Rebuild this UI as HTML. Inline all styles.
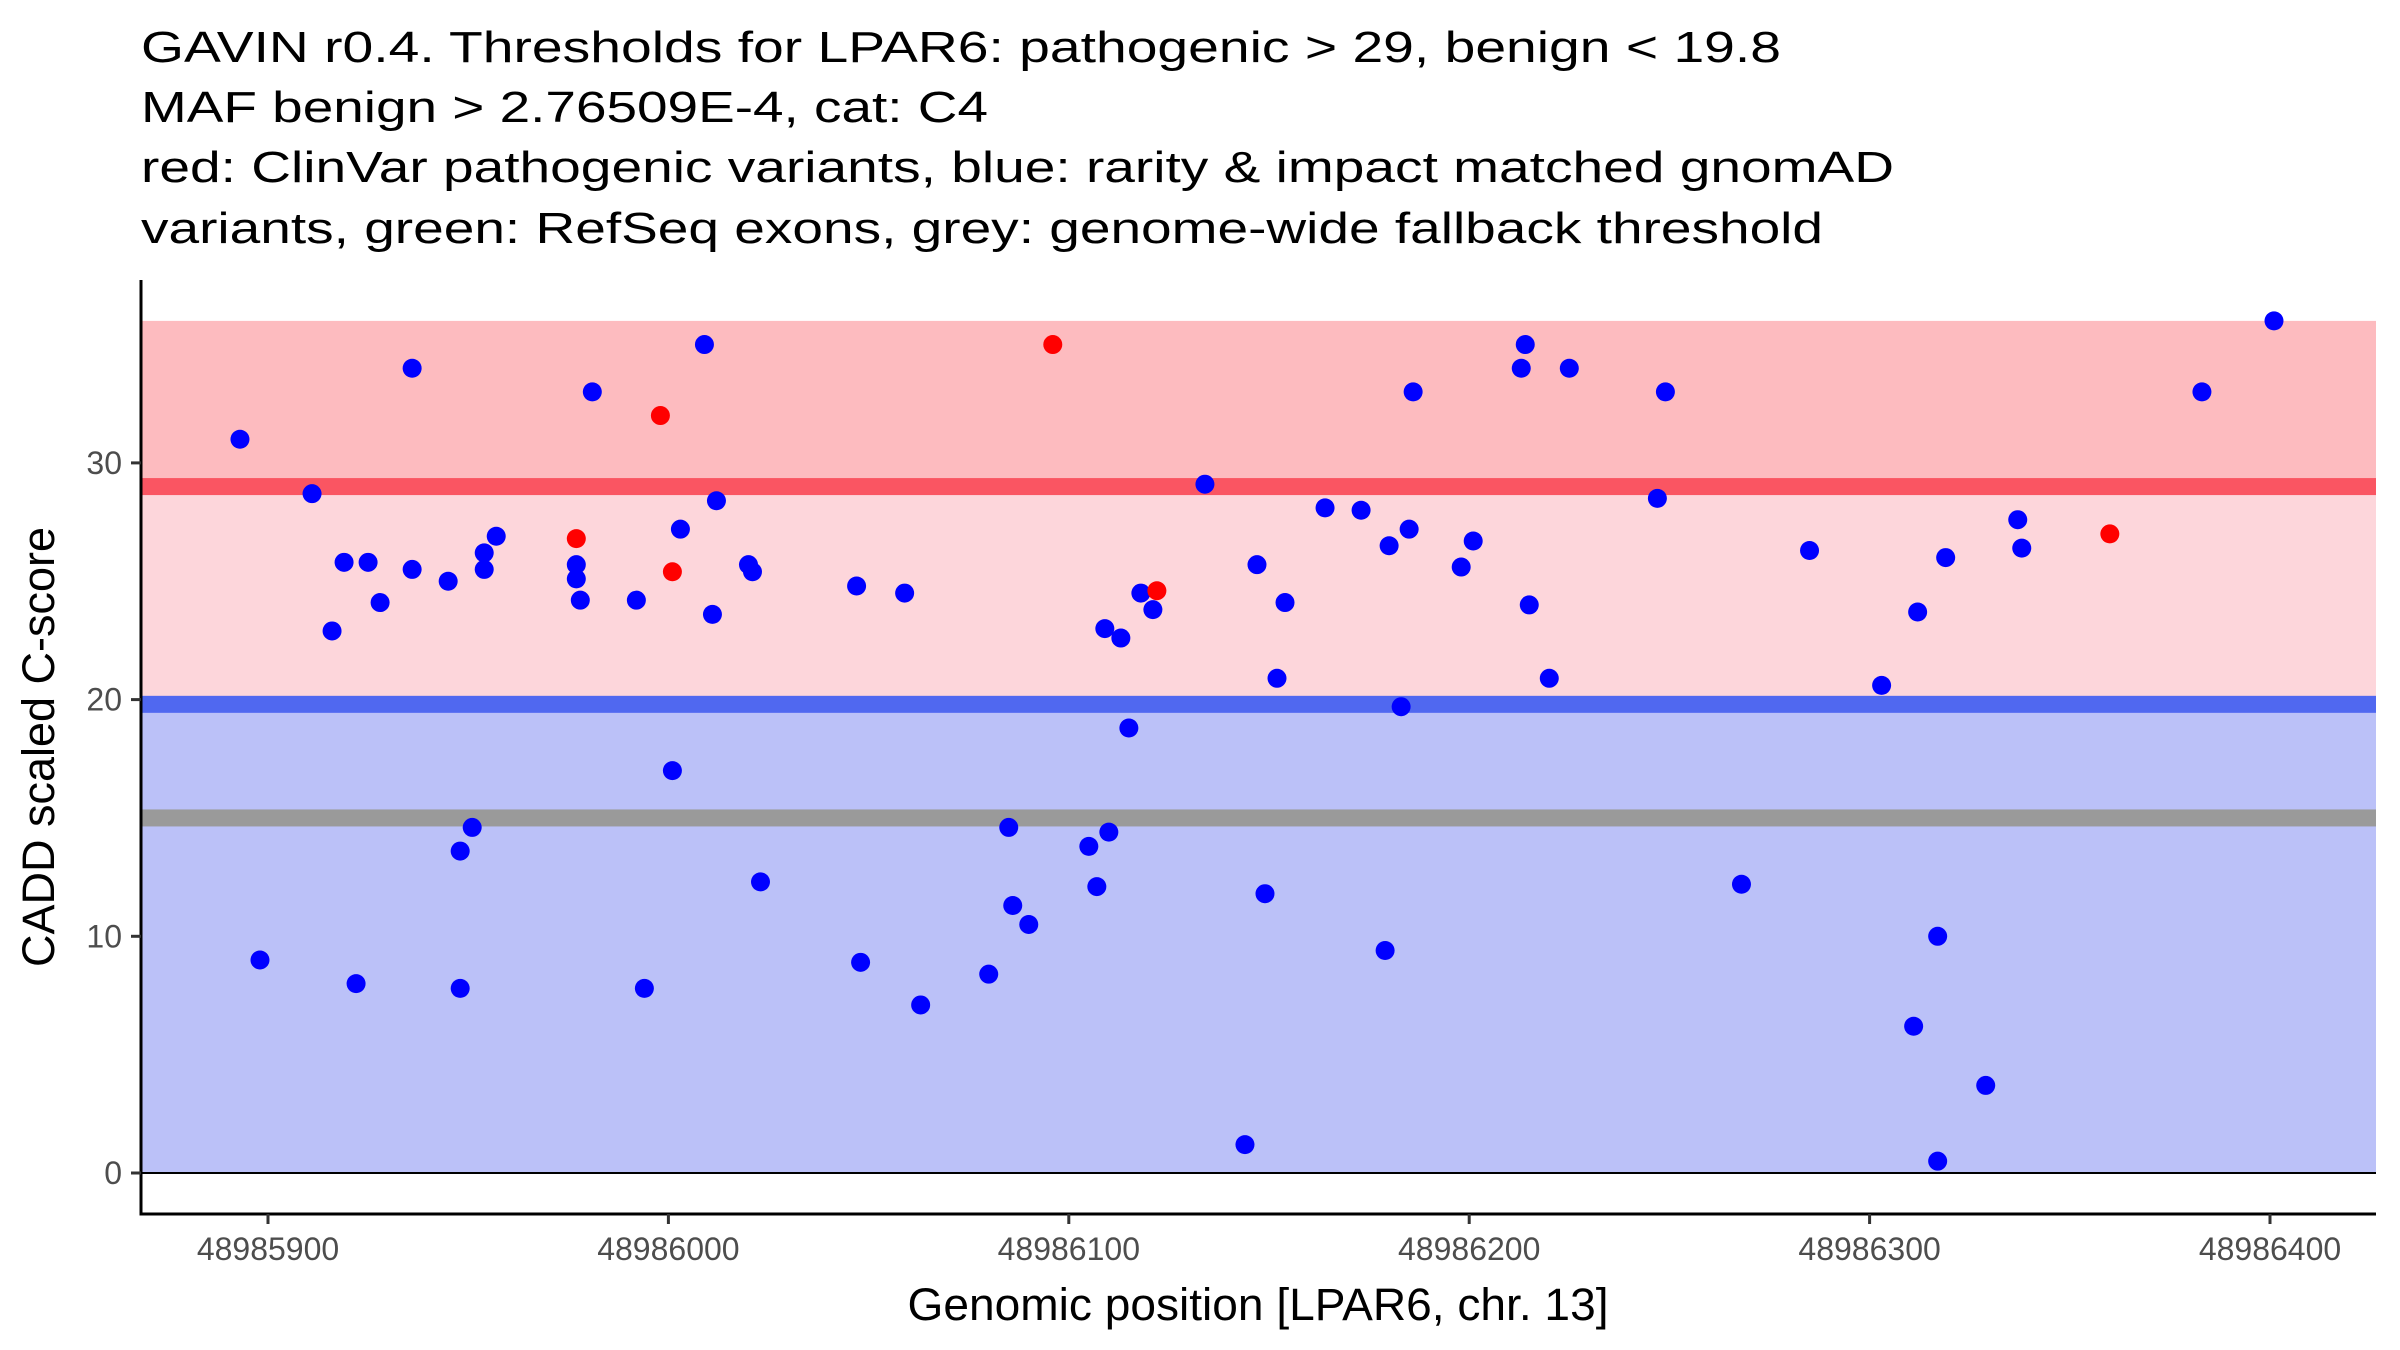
<!DOCTYPE html>
<html><head><meta charset="utf-8"><style>
html,body{margin:0;padding:0;background:#fff}
svg{display:block;font-family:"Liberation Sans",Arial,sans-serif}
</style></head><body>
<svg id="chart" width="2400" height="1350" viewBox="0 0 2400 1350" xmlns="http://www.w3.org/2000/svg">
<g font-size="44" fill="#000">
<text x="141" y="62" textLength="1640" lengthAdjust="spacingAndGlyphs">GAVIN r0.4. Thresholds for LPAR6: pathogenic &gt; 29, benign &lt; 19.8</text>
<text x="141" y="122" textLength="847" lengthAdjust="spacingAndGlyphs">MAF benign &gt; 2.76509E-4, cat: C4</text>
<text x="141" y="182" textLength="1753" lengthAdjust="spacingAndGlyphs">red: ClinVar pathogenic variants, blue: rarity &amp; impact matched gnomAD</text>
<text x="141" y="243" textLength="1682" lengthAdjust="spacingAndGlyphs">variants, green: RefSeq exons, grey: genome-wide fallback threshold</text>
</g>
<g id="bands"></g>
<g id="points"></g>
<g id="axes"></g>
<text x="1258" y="1320" font-size="45" text-anchor="middle" fill="#000" textLength="701" lengthAdjust="spacingAndGlyphs">Genomic position [LPAR6, chr. 13]</text>
<text transform="translate(54,747) rotate(-90)" font-size="45" text-anchor="middle" fill="#000" textLength="440" lengthAdjust="spacingAndGlyphs">CADD scaled C-score</text>
</svg>
<script>
const xTicks = [48985900, 48986000, 48986100, 48986200, 48986300, 48986400];
const yTicks = [0, 10, 20, 30];
const thresholds = [29, 19.8, 15];
const bandTop = 36;
const blueX = [48985893,48985898,48985911,48985916,48985919,48985922,48985925,48985928,48985936,48985936,48985945,48985948,48985948,48985951,48985954,48985954,48985957,48985977,48985977,48985978,48985981,48985992,48985994,48986001,48986003,48986009,48986011,48986012,48986020,48986021,48986023,48986047,48986048,48986059,48986063,48986080,48986085,48986086,48986090,48986105,48986107,48986109,48986110,48986113,48986115,48986118,48986121,48986134,48986144,48986147,48986149,48986152,48986154,48986164,48986173,48986179,48986180,48986183,48986185,48986186,48986198,48986201,48986213,48986214,48986215,48986220,48986225,48986247,48986249,48986268,48986285,48986303,48986311,48986312,48986317,48986317,48986319,48986329,48986337,48986338,48986383,48986401];
const blueY = [31.0,9.0,28.7,22.9,25.8,8.0,25.8,24.1,34.0,25.5,25.0,13.6,7.8,14.6,26.2,25.5,26.9,25.7,25.1,24.2,33.0,24.2,7.8,17.0,27.2,35.0,23.6,28.4,25.7,25.4,12.3,24.8,8.9,24.5,7.1,8.4,14.6,11.3,10.5,13.8,12.1,23.0,14.4,22.6,18.8,24.5,23.8,29.1,1.2,25.7,11.8,20.9,24.1,28.1,28.0,9.4,26.5,19.7,27.2,33.0,25.6,26.7,34.0,35.0,24.0,20.9,34.0,28.5,33.0,12.2,26.3,20.6,6.2,23.7,10.0,0.5,26.0,3.7,27.6,26.4,33.0,36.0];
const redX = [48985977, 48985998, 48986001, 48986096, 48986122, 48986360];
const redY = [26.8, 32.0, 25.4, 35.0, 24.6, 27.0];

const NS = "http://www.w3.org/2000/svg";
const L = 141, R = 2376, T = 280, B = 1214;
function sx(v){ return 268 + (v - 48985900) * 4.004; }
function sy(v){ return 1173 - v * 23.67; }
function mk(parent, tag, attrs){ const e = document.createElementNS(NS, tag); for (const k in attrs) e.setAttribute(k, attrs[k]); parent.appendChild(e); return e; }

const bands = document.getElementById('bands');
let r;
r = mk(bands,'rect',{x:L,y:sy(bandTop),width:R-L,height:sy(thresholds[0])-sy(bandTop),fill:'#fdbbbf'});


r = mk(bands,'rect',{x:L,y:sy(thresholds[0]),width:R-L,height:sy(thresholds[1])-sy(thresholds[0]),fill:'#fdd6db'});


r = mk(bands,'rect',{x:L,y:sy(thresholds[1]),width:R-L,height:sy(0)-sy(thresholds[1]),fill:'#bbc1f8'});


const lineCols = ['#fa5562','#5068f0','#9a9a9a'];
const lineNames = ['pathogenic-threshold-line','benign-threshold-line','fallback-threshold-line'];
thresholds.forEach((t,i)=>{
  const l = mk(bands,'rect',{x:L,y:sy(t)-8.5,width:R-L,height:17,fill:lineCols[i]});
  
  
});
const zl = mk(bands,'line',{x1:L,x2:R,y1:sy(0),y2:sy(0),stroke:'#000','stroke-width':2});



const pts = document.getElementById('points');
blueX.forEach((x,i)=>{
  const c = mk(pts,'circle',{cx:sx(x),cy:sy(blueY[i]),r:9.5,fill:'#0000ff'});
  
  
});
redX.forEach((x,i)=>{
  const c = mk(pts,'circle',{cx:sx(x),cy:sy(redY[i]),r:9.5,fill:'#ff0000'});
  
  
});

const ax = document.getElementById('axes');
const ya = mk(ax,'line',{x1:L,x2:L,y1:T,y2:B+1.5,stroke:'#000','stroke-width':3});


const xa = mk(ax,'line',{x1:L-1.5,x2:R,y1:B,y2:B,stroke:'#000','stroke-width':3});


yTicks.forEach(v=>{
  const tk = mk(ax,'line',{x1:L-10,x2:L,y1:sy(v),y2:sy(v),stroke:'#333','stroke-width':3});
  
  
  const tx = mk(ax,'text',{x:L-19,y:sy(v)+11,'font-size':32,'text-anchor':'end',fill:'#4d4d4d'});
  tx.textContent = v;
  
  
});
xTicks.forEach(v=>{
  const tk = mk(ax,'line',{x1:sx(v),x2:sx(v),y1:B,y2:B+10,stroke:'#333','stroke-width':3});
  
  
  const tx = mk(ax,'text',{x:sx(v),y:B+46,'font-size':32,'text-anchor':'middle',fill:'#4d4d4d'});
  tx.textContent = v;
  
  
});
</script>
</body></html>
